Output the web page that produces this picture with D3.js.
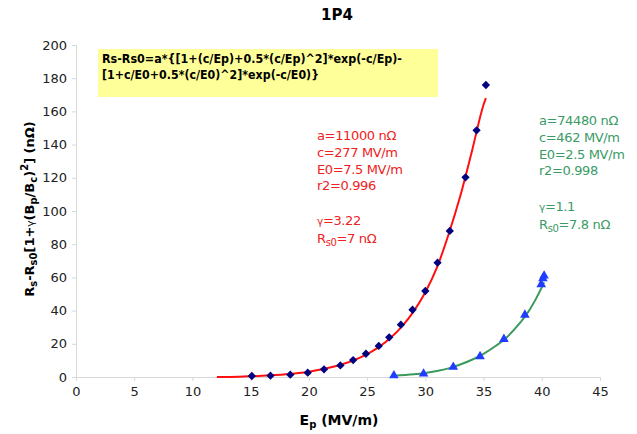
<!DOCTYPE html>
<html>
<head>
<meta charset="utf-8">
<script src="https://cdn.jsdelivr.net/npm/d3@7"></script>
<style>
  body { margin: 0; background: #fff; }
  svg text { font-family: "DejaVu Sans", sans-serif; }
</style>
</head>
<body>
<svg id="chart"></svg>
<script>
// measured points, 1P4 cavity (Ep in MV/m, R in nOhm)
const redEp = [15.1, 16.7, 18.4, 19.9, 21.3, 22.7, 23.8, 24.9, 26.0, 26.9, 27.9, 28.9, 30.0, 31.05, 32.1, 33.45, 34.4, 35.2];
const redR  = [0.6, 0.8, 1.4, 2.6, 4.6, 7.0, 10.2, 14.0, 18.7, 23.9, 31.5, 40.5, 51.8, 68.9, 88, 120.3, 148.6, 175.9];

const greenEp = [27.3, 29.85, 32.4, 34.7, 36.75, 38.55, 39.95, 40.1, 40.2];
const greenR  = [0.9, 2.0, 6.0, 12.4, 22.8, 37.4, 55.8, 59.3, 61.0];

// fit curves
const redFitEp = [12.1, 14, 16, 18, 20, 22, 23, 24, 25, 26, 27, 28, 29, 30, 31, 32, 33, 34, 35, 35.2];
const redFitR  = [0, 0.2, 0.7, 1.6, 3.2, 6, 8, 10.5, 13.8, 18, 23.5, 30.5, 39.5, 51, 66, 86, 109, 136, 164, 168];

const greenFitEp = [27.3, 29, 30, 31, 32, 33, 34, 35, 36, 37, 38, 39, 40, 40.2];
const greenFitR  = [0.8, 1.6, 2.4, 3.6, 5.2, 7.5, 10.4, 14, 18.5, 24, 31.5, 41, 54, 57];

const xTicks = [0, 5, 10, 15, 20, 25, 30, 35, 40, 45];
const yTicks = [0, 20, 40, 60, 80, 100, 120, 140, 160, 180, 200];

const formulaLines = [
  'Rs-Rs0=a*{[1+(c/Ep)+0.5*(c/Ep)^2]*exp(-c/Ep)-',
  '[1+c/E0+0.5*(c/E0)^2]*exp(-c/E0)}'
];
const redNotes = ['a=11000 nΩ', 'c=277 MV/m', 'E0=7.5 MV/m', 'r2=0.996'];
const redGamma = ['3.22', '7 nΩ'];
const greenNotes = ['a=74480 nΩ', 'c=462 MV/m', 'E0=2.5 MV/m', 'r2=0.998'];
const greenGamma = ['1.1', '7.8 nΩ'];

const W = 637, H = 434;
const svg = d3.select('#chart').attr('width', W).attr('height', H);

const x = d3.scaleLinear().domain([0, 45]).range([76, 600]);
const y = d3.scaleLinear().domain([0, 200]).range([377, 45]);

// axes
const gx = svg.append('g')
  .attr('transform', `translate(0,${y(0)})`)
  .call(d3.axisBottom(x).tickValues(xTicks).tickSize(4).tickPadding(6));
const gy = svg.append('g')
  .attr('transform', `translate(${x(0)},0)`)
  .call(d3.axisLeft(y).tickValues(yTicks).tickSize(4).tickPadding(5));
[gx, gy].forEach(g => {
  g.select('.domain').attr('stroke', '#d8d8d8');
  g.selectAll('.tick line').attr('stroke', '#d8d8d8');
  g.selectAll('.tick text').attr('font-size', 13).attr('fill', '#222')
    .attr('font-family', '"DejaVu Sans", sans-serif');
});

// title
svg.append('text').attr('x', 337).attr('y', 20).attr('text-anchor', 'middle')
  .attr('font-size', 15).attr('font-weight', 'bold').text('1P4');

// formula box
svg.append('rect').attr('x', 98).attr('y', 49).attr('width', 340).attr('height', 48)
  .attr('fill', '#ffff99');
const lens = [300, 217];
formulaLines.forEach((t, i) => {
  svg.append('text').attr('x', 102).attr('y', 63 + i * 16)
    .attr('font-size', 12.5).attr('font-weight', 'bold')
    .attr('textLength', lens[i]).attr('lengthAdjust', 'spacingAndGlyphs')
    .text(t);
});

// fit lines
const line = d3.line().x(d => x(d[0])).y(d => y(d[1])).curve(d3.curveMonotoneX);
svg.append('path').datum(d3.zip(redFitEp, redFitR))
  .attr('d', line).attr('fill', 'none').attr('stroke', '#ff1010').attr('stroke-width', 2);
svg.append('path').datum(d3.zip(greenFitEp, greenFitR))
  .attr('d', line).attr('fill', 'none').attr('stroke', '#3a9a5c').attr('stroke-width', 2);

// markers
svg.selectAll('.dia').data(d3.zip(redEp, redR)).enter().append('path')
  .attr('class', 'dia')
  .attr('d', d3.symbol().type(d3.symbolDiamond2).size(44))
  .attr('transform', d => `translate(${x(d[0])},${y(d[1])})`)
  .attr('fill', '#000080');
svg.selectAll('.tri').data(d3.zip(greenEp, greenR)).enter().append('path')
  .attr('class', 'tri')
  .attr('d', d3.symbol().type(d3.symbolTriangle).size(40))
  .attr('transform', d => `translate(${x(d[0])},${y(d[1])})`)
  .attr('fill', '#1f3cff');

// annotations
function notes(lines, gamma, x0, y0, y1, color) {
  const t = svg.append('g').attr('fill', color).attr('font-size', 13)
    .attr('letter-spacing', -0.35);
  lines.forEach((s, i) => {
    t.append('text').attr('x', x0).attr('y', y0 + i * 16.8).text(s);
  });
  const g1 = t.append('text').attr('x', x0).attr('y', y1);
  g1.append('tspan').attr('font-size', 10.5).text('γ');
  g1.append('tspan').text('=' + gamma[0]);
  const g2 = t.append('text').attr('x', x0).attr('y', y1 + 17.5);
  g2.append('tspan').text('R');
  g2.append('tspan').attr('font-size', 10).attr('dy', 3).text('s0');
  g2.append('tspan').attr('dy', -3).text('=' + gamma[1]);
}
notes(redNotes, redGamma, 317, 140, 225, '#ee2222');
notes(greenNotes, greenGamma, 539, 125, 211, '#3a9a66');

// x axis title
const xt = svg.append('text').attr('x', 339).attr('y', 425).attr('text-anchor', 'middle')
  .attr('font-size', 14).attr('font-weight', 'bold');
xt.append('tspan').text('E');
xt.append('tspan').attr('font-size', 10).attr('dy', 3).text('p');
xt.append('tspan').attr('dy', -3).text(' (MV/m)');

// y axis title
const yt = svg.append('text')
  .attr('transform', 'translate(34,209) rotate(-90)')
  .attr('text-anchor', 'middle').attr('font-size', 13).attr('font-weight', 'bold');
yt.append('tspan').text('R');
yt.append('tspan').attr('font-size', 10).attr('dy', 3).text('s');
yt.append('tspan').attr('dy', -3).text('-R');
yt.append('tspan').attr('font-size', 10).attr('dy', 3).text('s0');
yt.append('tspan').attr('dy', -3).text('[1+');
yt.append('tspan').attr('font-size', 10.5).attr('font-weight', 'normal').text('γ');
yt.append('tspan').text('(B');
yt.append('tspan').attr('font-size', 10).attr('dy', 3).text('p');
yt.append('tspan').attr('dy', -3).text('/B');
yt.append('tspan').attr('font-size', 10).attr('dy', 3).text('c');
yt.append('tspan').attr('dy', -3).text(')');
yt.append('tspan').attr('font-size', 10).attr('dy', -6).text('2');
yt.append('tspan').attr('dy', 6).text('] (nΩ)');
</script>
</body>
</html>
